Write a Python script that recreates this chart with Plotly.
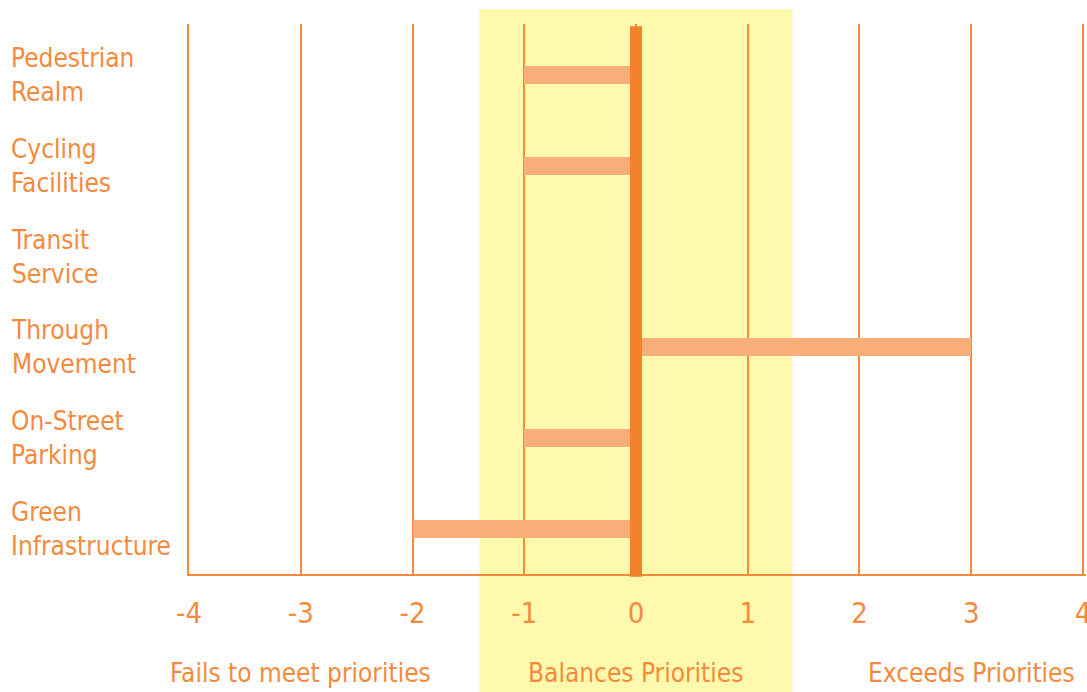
import plotly.graph_objects as go

categories = ["Pedestrian<br>Realm", "Cycling<br>Facilities", "Transit<br>Service",
              "Through<br>Movement", "On-Street<br>Parking", "Green<br>Infrastructure"]
scores = [-1, -1, 0, 3, -1, -2]
tick_vals = [-4, -3, -2, -1, 0, 1, 2, 3, 4]
tick_text = ["-4", "-3", "-2", "-1", "0", "1", "2", "3", "4"]
zone_labels = ["Fails to meet priorities", "Balances Priorities", "Exceeds Priorities"]
zone_centers = [-3, 0, 3]
balance_band = [-1.4, 1.4]

FONT = "DejaVu Sans Condensed, Liberation Sans Narrow, sans-serif"
ORANGE = "#F58A3C"
BAR = "#F7AE78"
LINE = "#F4812C"
YELLOW = "#FFF9AD"

fig = go.Figure()
fig.add_trace(go.Bar(
    x=scores, y=categories, orientation="h", width=0.2,
    marker=dict(color=BAR, line=dict(width=0)), hoverinfo="x+y",
))

fig.add_shape(type="rect", xref="x", yref="paper", x0=balance_band[0], x1=balance_band[1],
              y0=-0.215, y1=1.027, fillcolor=YELLOW, line=dict(width=0), layer="below")
fig.add_shape(type="line", xref="x", yref="paper", x0=0, x1=0, y0=-0.005, y1=0.996,
              line=dict(color=LINE, width=12), layer="above")

for cat in categories:
    fig.add_annotation(text=cat, xref="paper", yref="y", x=-0.2005, y=cat,
                       xanchor="left", yanchor="middle", align="left", showarrow=False,
                       font=dict(family=FONT, size=26, color=ORANGE))

for lab, cx in zip(zone_labels, zone_centers):
    fig.add_annotation(text=lab, xref="x", yref="paper", x=cx, y=-0.18,
                       xanchor="center", yanchor="middle", showarrow=False,
                       font=dict(family=FONT, size=26, color=ORANGE))

fig.update_layout(
    width=1087, height=692,
    margin=dict(l=189, r=1, t=24, b=118, autoexpand=False),
    paper_bgcolor="white", plot_bgcolor="rgba(0,0,0,0)",
    showlegend=False, bargap=0,
    font=dict(family=FONT, color=ORANGE),
)
fig.update_xaxes(range=[-4, 4.027], tickvals=tick_vals, ticktext=tick_text,
                 showgrid=True, gridcolor=ORANGE, gridwidth=2, automargin=False,
                 zeroline=False, showline=True, linecolor=ORANGE, linewidth=2,
                 ticks="", tickfont=dict(family=FONT, size=29, color=ORANGE),
                 ticklabelstandoff=12, ticklabeloverflow="allow")
fig.update_yaxes(range=[5.5, -0.566], showticklabels=False, showgrid=False, automargin=False,
                 zeroline=False, showline=True, linecolor=ORANGE, linewidth=2, ticks="")

post = (
    "document.documentElement.style.overflow='hidden';"
    "document.body.style.margin='0';document.body.style.overflow='hidden';"
)
fig.write_html("out.html", config={"displayModeBar": False}, post_script=post)
